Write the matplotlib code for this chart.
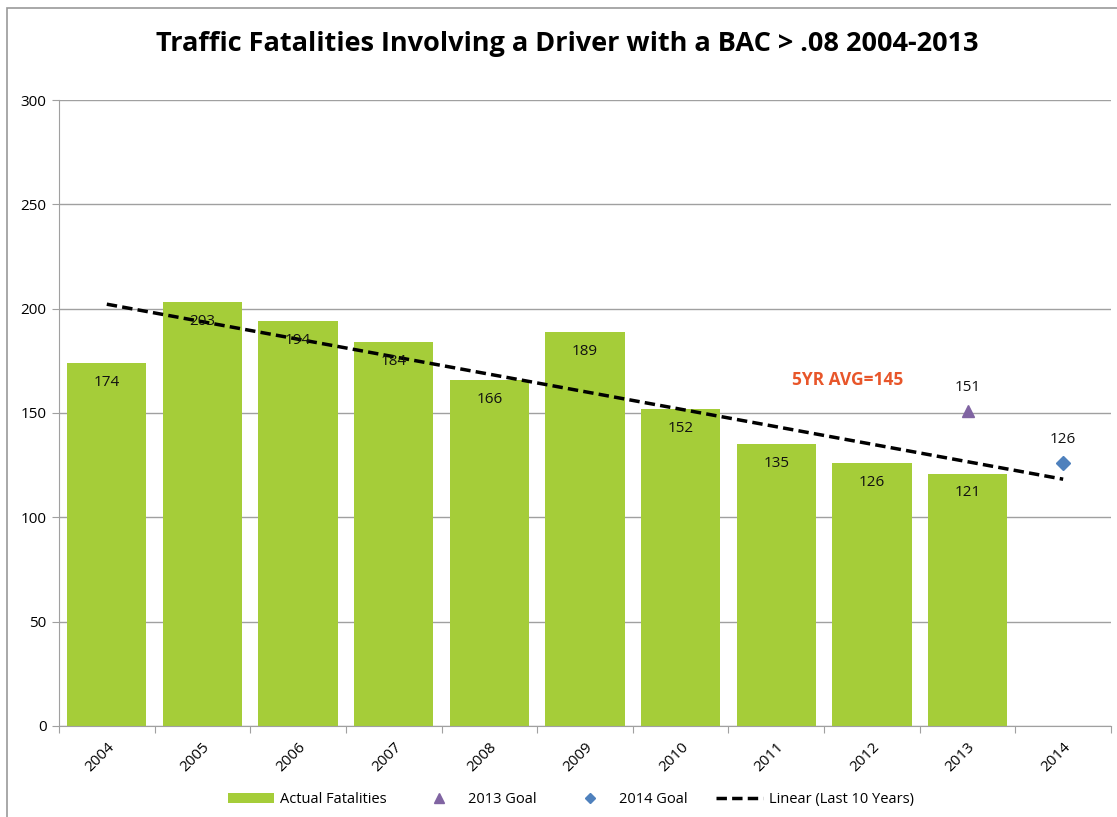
import matplotlib
matplotlib.use("Agg")
import matplotlib.pyplot as plt
from matplotlib.patches import Rectangle
import numpy as np

years = ["2004", "2005", "2006", "2007", "2008", "2009", "2010", "2011", "2012", "2013", "2014"]
fatalities = [174, 203, 194, 184, 166, 189, 152, 135, 126, 121]
goal_2013 = 151
goal_2014 = 126
avg_text = "5YR AVG=145"

plt.rcParams['font.family'] = ['Open Sans', 'DejaVu Sans']

fig = plt.figure(figsize=(11.17, 8.17), dpi=100)
ax = fig.add_axes([0.0528, 0.1114, 0.9418, 0.7662])

# outer chart frame
fig.patches.append(Rectangle((0.0063, -0.05), 1.1, 1.04, transform=fig.transFigure,
                             fill=False, edgecolor='#999999', lw=1.2))

x = np.arange(len(fatalities))
ax.bar(x, fatalities, width=0.83, color='#A5CD39', label='Actual Fatalities', zorder=2)
for xi, v in zip(x, fatalities):
    ax.annotate(str(v), (xi, v), xytext=(0, -14), textcoords='offset points',
                ha='center', va='center', fontsize=11, color='#111111', zorder=5)

ax.plot([9], [goal_2013], linestyle='none', marker='^', color='#8064A2', markersize=9,
        label='2013 Goal', zorder=4)
ax.plot([10], [goal_2014], linestyle='none', marker='D', color='#4F81BD', markersize=7,
        label='2014 Goal', zorder=4)
ax.annotate(str(goal_2013), (9, goal_2013), xytext=(0, 17), textcoords='offset points',
            ha='center', va='center', fontsize=11, color='#111111')
ax.annotate(str(goal_2014), (10, goal_2014), xytext=(0, 17), textcoords='offset points',
            ha='center', va='center', fontsize=11, color='#111111')

# linear trend over the last 10 years, extended one period
coef = np.polyfit(x, fatalities, 1)
xt = np.array([0, 10])
ax.plot(xt, np.polyval(coef, xt), color='black', linestyle=(0, (3, 1.5)), lw=2.5,
        label='Linear (Last 10 Years)', zorder=3)

ax.text(7.75, 166, avg_text, color='#E8562A', fontsize=12.5, fontweight='bold',
        ha='center', va='center')

ax.set_xlim(-0.5, 10.5)
ax.set_ylim(0, 300)
ax.set_yticks(range(0, 301, 50))
ax.yaxis.grid(True, color='#a0a0a0', lw=1, zorder=0)
ax.set_axisbelow(True)
for s in ['top', 'right']:
    ax.spines[s].set_visible(False)
ax.spines['left'].set_color('#a0a0a0')
ax.spines['bottom'].set_color('#a0a0a0')
ax.tick_params(axis='y', length=5, color='#a0a0a0', labelsize=11, pad=4)
ax.set_xticks(np.arange(-0.5, 10.6, 1))
ax.set_xticklabels([])
ax.tick_params(axis='x', length=5, color='#a0a0a0')
ax.set_xticks(x.tolist() + [10], minor=True)
ax.set_xticklabels(years, minor=True, rotation=45, ha='right', rotation_mode='anchor',
                   fontsize=11)
ax.tick_params(axis='x', which='minor', length=0, pad=10)

fig.suptitle("Traffic Fatalities Involving a Driver with a BAC > .08 2004-2013",
             x=0.508, y=0.962, fontsize=19.5, fontweight='bold')

handles, labels = ax.get_legend_handles_labels()
order = [labels.index(n) for n in ['Actual Fatalities', '2013 Goal', '2014 Goal',
                                    'Linear (Last 10 Years)']]
fig.legend([handles[i] for i in order], [labels[i] for i in order],
           loc='center', bbox_to_anchor=(0.511, 0.021), ncol=4, frameon=False,
           fontsize=10.5, handlelength=3.2, columnspacing=2.0, handletextpad=0.4,
           markerscale=0.8, borderpad=0)

fig.savefig("out.png", dpi=100)
